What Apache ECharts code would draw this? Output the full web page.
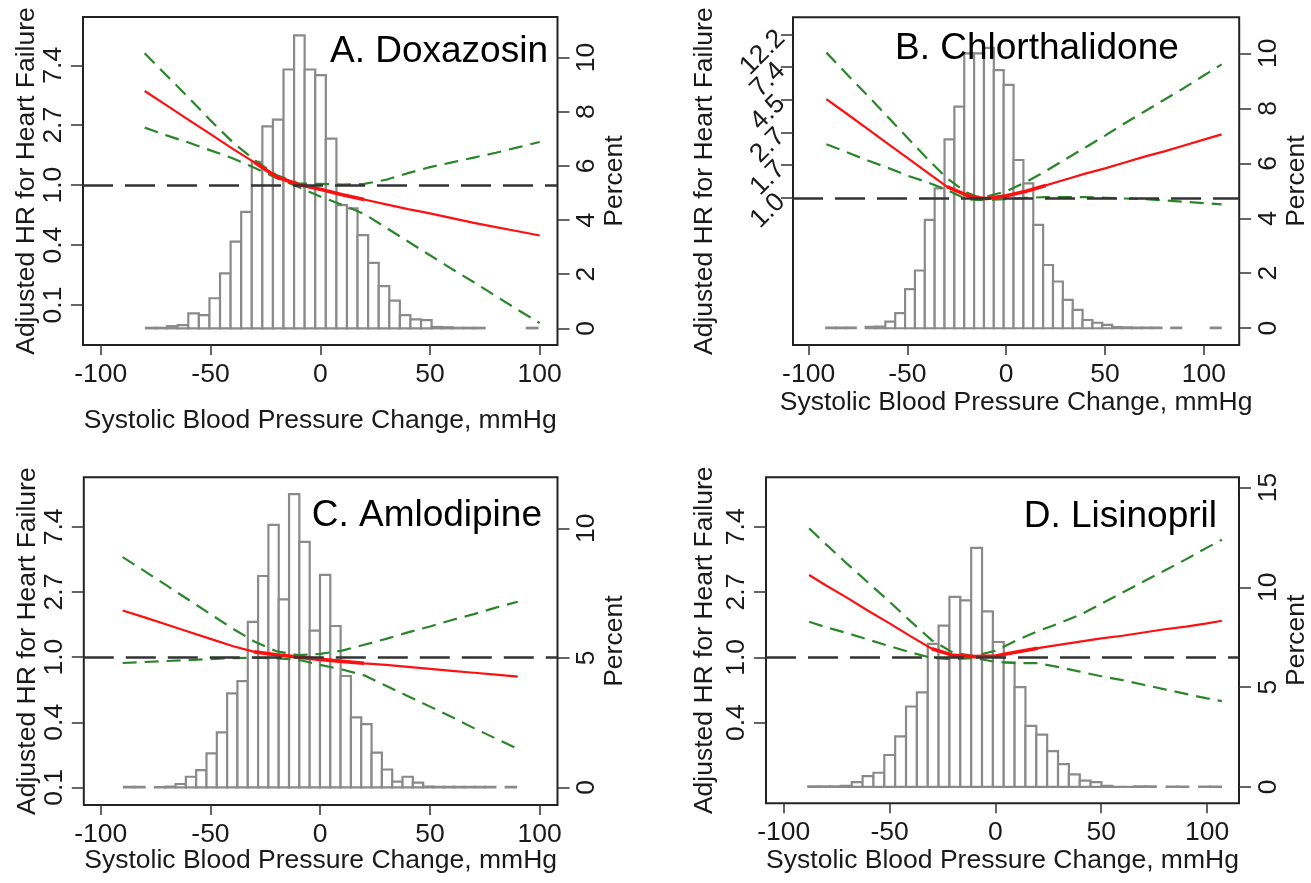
<!DOCTYPE html>
<html>
<head>
<meta charset="utf-8">
<script src="https://cdn.jsdelivr.net/npm/echarts@6/dist/echarts.min.js"></script>
<style>
  html, body { margin: 0; padding: 0; background: #fff; }
  #main { width: 1311px; height: 883px; }
</style>
</head>
<body>
<div id="main"></div>
<script>
// ---- data (x = SBP change, mmHg; HR as ln(HR)) ----
var xA = [-80,-70,-60,-50,-40,-30,-20,-10,0,10,20,30,40,50,60,70,80,90,100];
var logHrA = [1.57,1.33,1.09,0.85,0.61,0.38,0.14,0.01,-0.07,-0.16,-0.24,-0.32,-0.40,-0.47,-0.55,-0.63,-0.70,-0.77,-0.84];
var logHiA = [2.20,1.83,1.46,1.08,0.72,0.42,0.17,0.03,0.02,0.01,0.02,0.09,0.20,0.30,0.38,0.46,0.54,0.63,0.72];
var logLoA = [0.96,0.83,0.71,0.58,0.45,0.29,0.12,-0.03,-0.19,-0.33,-0.48,-0.71,-0.94,-1.17,-1.40,-1.62,-1.85,-2.08,-2.30];
var pctA = [0.02,0.02,0.08,0.12,
  0.55,0.49,1.11,2.03,3.20,4.30,6.15,7.46,7.71,9.56,10.82,9.56,9.35,7.01,4.55,4.43,3.44,2.42,1.56,1.02,0.49,0.33,0.30,
  0.05,0.04,0.02,0.02,0.02,0,0,0,0,0.02];

var xB = [-91,-80,-70,-60,-50,-40,-30,-20,-15,-10,0,10,20,30,40,50,60,70,80,90,100,109];
var logHrB = [1.51,1.27,1.05,0.83,0.61,0.39,0.17,0.04,0.0,-0.01,0.03,0.10,0.19,0.28,0.37,0.45,0.54,0.63,0.71,0.80,0.89,0.97];
var logHiB = [2.22,1.87,1.56,1.24,0.92,0.60,0.30,0.08,0.02,0.02,0.10,0.24,0.41,0.59,0.77,0.95,1.14,1.32,1.50,1.68,1.87,2.04];
var logLoB = [0.82,0.69,0.57,0.46,0.34,0.24,0.12,-0.02,-0.03,-0.03,-0.02,0.0,0.01,0.01,0.01,0.0,-0.01,-0.02,-0.04,-0.06,-0.08,-0.10];
var pctB = [0.02,0.02,0.02,0,0.05,0.06,
  0.24,0.55,1.42,2.10,3.94,5.09,6.87,8.06,10.0,10.0,10.2,9.39,8.85,6.12,5.27,3.76,2.30,1.70,1.03,0.67,0.30,0.20,0.12,
  0.04,0.03,0.02,0.02,0.02,0,0.02,0,0,0,0.02];

var xC = [-90,-80,-70,-60,-50,-40,-30,-20,-10,0,10,20,30,40,50,60,70,80,90];
var logHrC = [0.715,0.61,0.50,0.39,0.28,0.17,0.08,0.035,0.0,-0.035,-0.065,-0.095,-0.12,-0.15,-0.18,-0.21,-0.24,-0.27,-0.30];
var logHiC = [1.535,1.32,1.10,0.88,0.66,0.44,0.24,0.09,0.03,0.05,0.10,0.19,0.28,0.38,0.47,0.57,0.66,0.76,0.85];
var logLoC = [-0.09,-0.075,-0.06,-0.045,-0.03,-0.015,-0.01,-0.02,-0.04,-0.12,-0.19,-0.28,-0.44,-0.60,-0.76,-0.92,-1.09,-1.25,-1.41];
var pctC = [0.02,0.02,0,0.01,0.03,0.13,
  0.41,0.67,1.31,2.12,3.63,4.10,6.39,8.16,10.13,7.26,11.32,9.48,6.05,8.20,6.23,4.30,2.70,2.44,1.34,0.69,0.22,0.41,0.18,
  0.03,0.02,0.02,0.02,0.02,0.02,0.02,0,0.02];

var xD = [-88,-80,-70,-60,-50,-40,-30,-20,-10,0,10,20,30,40,50,60,70,80,90,100,107];
var logHrD = [1.26,1.10,0.91,0.71,0.52,0.32,0.13,0.03,0.01,0.02,0.08,0.14,0.19,0.24,0.29,0.33,0.38,0.43,0.47,0.52,0.56];
var logHiD = [1.975,1.73,1.43,1.14,0.85,0.55,0.26,0.07,0.02,0.10,0.26,0.40,0.52,0.65,0.82,0.99,1.16,1.33,1.50,1.68,1.80];
var logLoD = [0.545,0.46,0.37,0.27,0.17,0.075,-0.01,-0.03,-0.01,-0.07,-0.09,-0.09,-0.15,-0.22,-0.29,-0.35,-0.42,-0.49,-0.56,-0.63,-0.67];
var pctD = [0.03,0.03,0.03,0.05,
  0.24,0.54,0.71,1.60,2.53,4.03,4.74,7.17,8.08,9.52,9.34,11.97,8.79,7.26,6.24,5.0,3.06,2.62,1.79,1.14,0.63,0.32,0.24,
  0.05,0.01,0.01,0.03,0.03,0,0.02,0.02,0,0.02,0.02];

// tick positions (ln HR) and their labels, percent ticks, x ticks
var xTicks = [-100,-50,0,50,100];
var hrTicksA = [-2,-1,0,1,2], hrLabelsA = ['0.1','0.4','1.0','2.7','7.4'];
var hrTicksB = [0,0.5,1,1.5,2,2.5], hrLabelsB = ['1.0','1.7','2.7','4.5','7.4','12.2'];
var hrTicksC = [-2,-1,0,1,2], hrLabelsC = ['0.1','0.4','1.0','2.7','7.4'];
var hrTicksD = [-1,0,1,2], hrLabelsD = ['0.4','1.0','2.7','7.4'];
var pctTicksA = [0,2,4,6,8,10], pctTicksB = [0,2,4,6,8,10], pctTicksC = [0,5,10], pctTicksD = [0,5,10,15];

var FONT = 'Liberation Sans, Arial, sans-serif';

// layout of each panel (pixel box, axis extents, histogram bins)
var panels = [
  { title: 'A. Doxazosin', box: [83, 17, 474.5, 328], xr: [-108.1, 108.1], hr: [-2.667, 2.805], pr: [-0.616, 11.5],
    x: xA, mid: logHrA, hi: logHiA, lo: logLoA, pct: pctA, binStart: -79.4, binW: 4.82,
    hrTicks: hrTicksA, hrLabels: hrLabelsA, pctTicks: pctTicksA, hrRot: 90, leftGap: 43, xGap: 62,
    tx: 548, ty: 33, align: 'right' },
  { title: 'B. Chlorthalidone', box: [793, 17.3, 446.2, 327.7], xr: [-107.9, 117.9], hr: [-2.25, 2.76], pr: [-0.61, 11.31],
    x: xB, mid: logHrB, hi: logHiB, lo: logLoB, pct: pctB, binStart: -91.1, binW: 4.99,
    hrTicks: hrTicksB, hrLabels: hrLabelsB, pctTicks: pctTicksB, hrRot: 45, leftGap: 75, xGap: 44,
    tx: 895, ty: 30, align: 'left' },
  { title: 'C. Amlodipine', box: [83.8, 477.3, 473.7, 327.7], xr: [-107.7, 108.1], hr: [-2.27, 2.76], pr: [-0.68, 11.97],
    x: xC, mid: logHrC, hi: logHiC, lo: logLoC, pct: pctC, binStart: -89.4, binW: 4.70,
    hrTicks: hrTicksC, hrLabels: hrLabelsC, pctTicks: pctTicksC, hrRot: 90, leftGap: 43, xGap: 42,
    tx: 542, ty: 497, align: 'right' },
  { title: 'D. Lisinopril', box: [766, 477.3, 473, 326], xr: [-108.4, 115.1], hr: [-2.236, 2.757], pr: [-0.82, 15.51],
    x: xD, mid: logHrD, hi: logHiD, lo: logLoD, pct: pctD, binStart: -88.4, binW: 5.13,
    hrTicks: hrTicksD, hrLabels: hrLabelsD, pctTicks: pctTicksD, hrRot: 90, leftGap: 48, xGap: 44,
    tx: 1217, ty: 498, align: 'right' }
];

function histItem(params, api) {
  var pct = api.value(2);
  if (!pct) return null;
  var p0 = api.coord([api.value(0), pct]);
  var p1 = api.coord([api.value(1), 0]);
  return {
    type: 'rect',
    shape: { x: p0[0], y: p0[1], width: p1[0] - p0[0], height: p1[1] - p0[1] },
    style: { fill: '#ffffff', stroke: '#8a8a8a', lineWidth: 2.2 }
  };
}

var tickStyle = { color: '#333', width: 1.5 };
var labelStyle = { fontSize: 26.5, fontFamily: FONT, color: '#1a1a1a', hideOverlap: false, showMinLabel: true, showMaxLabel: true };
var nameStyle = { fontSize: 26.5, fontFamily: FONT, color: '#1a1a1a' };

var option = { backgroundColor: '#fff', animation: false, grid: [], xAxis: [], yAxis: [], series: [], graphic: [] };

panels.forEach(function (p, i) {
  option.grid.push({
    left: p.box[0], top: p.box[1], width: p.box[2], height: p.box[3],
    show: true, borderColor: '#222', borderWidth: 2, backgroundColor: 'transparent',
    containLabel: false, outerBoundsMode: 'none'
  });
  option.xAxis.push({
    type: 'value', gridIndex: i, min: p.xr[0], max: p.xr[1], position: 'bottom',
    name: 'Systolic Blood Pressure Change, mmHg', nameLocation: 'middle', nameGap: p.xGap,
    nameMoveOverlap: false, nameTextStyle: nameStyle,
    axisLine: { show: false, onZero: false },
    axisTick: { show: true, length: 10, customValues: xTicks, lineStyle: tickStyle },
    axisLabel: Object.assign({ margin: 16, customValues: xTicks }, labelStyle),
    splitLine: { show: false }
  });

  // HR axis: ticks split over two overlaid left axes (even / odd ticks) so
  // the slanted labels in panel B are all kept, as in the original figure
  var yHr = option.yAxis.length;
  [0, 1].forEach(function (part) {
    var ticks = [], labels = [];
    p.hrTicks.forEach(function (t, k) { if (k % 2 === part) { ticks.push(t); labels.push(p.hrLabels[k]); } });
    option.yAxis.push({
      type: 'value', gridIndex: i, min: p.hr[0], max: p.hr[1], position: 'left', offset: 0,
      name: part === 0 ? 'Adjusted HR for Heart Failure' : '', nameLocation: 'middle', nameGap: p.leftGap,
      nameMoveOverlap: false, nameTextStyle: nameStyle,
      axisLine: { show: false, onZero: false },
      axisTick: { show: true, length: 12, customValues: ticks, lineStyle: tickStyle },
      axisLabel: Object.assign({
        margin: p.hrRot === 90 ? 16 : 12, rotate: p.hrRot, customValues: ticks,
        formatter: function (v) {
          for (var k = 0; k < ticks.length; k++) if (Math.abs(ticks[k] - v) < 1e-6) return labels[k];
          return '';
        }
      }, labelStyle),
      splitLine: { show: false }
    });
  });
  var yPct = option.yAxis.length;
  option.yAxis.push({
    type: 'value', gridIndex: i, min: p.pr[0], max: p.pr[1], position: 'right',
    name: 'Percent', nameLocation: 'middle', nameGap: 44,
    nameMoveOverlap: false, nameTextStyle: nameStyle,
    axisLine: { show: false, onZero: false },
    axisTick: { show: true, length: 12, customValues: p.pctTicks, lineStyle: tickStyle },
    axisLabel: Object.assign({ margin: 16, rotate: 90, customValues: p.pctTicks }, labelStyle),
    splitLine: { show: false }
  });

  // reference line at HR = 1
  option.series.push({
    type: 'line', xAxisIndex: i, yAxisIndex: yHr, data: [], z: 1, silent: true,
    markLine: {
      silent: true, symbol: ['none', 'none'], label: { show: false },
      lineStyle: { color: '#333', width: 2.5, type: [30, 12] },
      data: [{ yAxis: 0 }]
    }
  });
  // histogram of SBP change
  var bins = p.pct.map(function (v, k) {
    return [p.binStart + k * p.binW, p.binStart + (k + 1) * p.binW, v];
  });
  option.series.push({
    type: 'custom', xAxisIndex: i, yAxisIndex: yPct, z: 2, silent: true,
    renderItem: histItem, encode: { x: [0, 1], y: 2 }, data: bins, clip: true
  });
  function pts(arr, lo, hi) {
    var out = [];
    p.x.forEach(function (x, k) { if (x >= lo && x <= hi) out.push([x, arr[k]]); });
    return out;
  }
  var green = { color: '#2b862b', width: 2.2, type: [14, 8] };
  [p.lo, p.hi].forEach(function (arr) {
    option.series.push({
      type: 'line', xAxisIndex: i, yAxisIndex: yHr, z: 3, showSymbol: false, silent: true,
      data: pts(arr, -999, 999), lineStyle: green, itemStyle: { color: '#2b862b' }
    });
  });
  option.series.push({
    type: 'line', xAxisIndex: i, yAxisIndex: yHr, z: 4, showSymbol: false, silent: true,
    data: pts(p.mid, -999, 999), lineStyle: { color: '#ff1010', width: 2.2 }, itemStyle: { color: '#ff1010' }
  });
  option.series.push({
    type: 'line', xAxisIndex: i, yAxisIndex: yHr, z: 4, showSymbol: false, silent: true,
    data: pts(p.mid, -30, 20), lineStyle: { color: '#ff1010', width: 3.6 }, itemStyle: { color: '#ff1010' }
  });

  option.graphic.push({
    type: 'text', x: p.tx, y: p.ty, z: 10,
    style: { text: p.title, fontSize: 37, fontFamily: FONT, fill: '#000', textAlign: p.align, textVerticalAlign: 'top' }
  });
});

var chart = echarts.init(document.getElementById('main'));
chart.setOption(option);
</script>
</body>
</html>
